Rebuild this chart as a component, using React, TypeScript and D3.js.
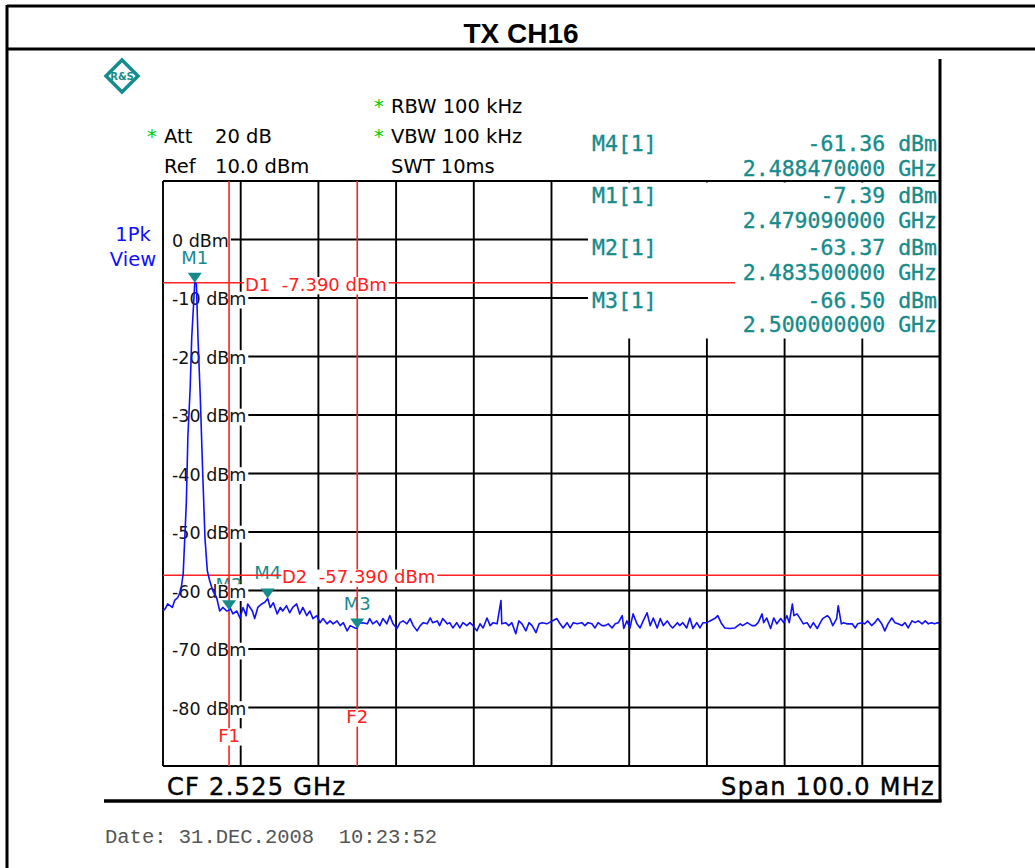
import * as d3 from 'd3';
import React, { useEffect, useRef } from 'react';

// Spectrum analyser screenshot: TX CH16, CF 2.525 GHz, span 100 MHz
const START_MHZ = 2475;
const STOP_MHZ = 2575;
const REF_LEVEL = 10;
const BOTTOM_LEVEL = -90;

const freqGrid = [2475, 2485, 2495, 2505, 2515, 2525, 2535, 2545, 2555, 2565, 2575];
const levelGrid = [10, 0, -10, -20, -30, -40, -50, -60, -70, -80, -90];
const levelLabels = [0, -10, -20, -30, -40, -50, -60, -70, -80];

const setupLeft = [
  { star: true, label: 'Att', value: '20 dB' },
  { star: false, label: 'Ref', value: '10.0 dBm' },
];
const setupRight = [
  { star: true, text: 'RBW 100 kHz' },
  { star: true, text: 'VBW 100 kHz' },
  { star: false, text: 'SWT 10ms' },
];

const markers = [
  { name: 'M1', freqGHz: 2.47909, level: -7.39 },
  { name: 'M2', freqGHz: 2.4835, level: -63.37 },
  { name: 'M3', freqGHz: 2.5, level: -66.5 },
  { name: 'M4', freqGHz: 2.48847, level: -61.36 },
];
const tableOrder = ['M4', 'M1', 'M2', 'M3'];

const displayLines = [
  { name: 'D1', level: -7.39 },
  { name: 'D2', level: -57.39 },
];
const freqLines = [
  { name: 'F1', freqGHz: 2.4835 },
  { name: 'F2', freqGHz: 2.5 },
];

// trace: [MHz above start frequency, dBm]
const trace: [number, number][] = [
  [0, -63.5], [0.3, -63.1], [0.6, -62.3], [1.2, -62.9], [1.5, -61.7], [1.9, -61.2], [2.3, -60.0], [2.6, -57.1],
  [3.0, -45.1], [3.2, -33.8], [3.5, -25.3], [3.7, -16.7], [4.09, -7.39], [4.3, -7.6], [4.5, -16.7], [4.8, -27.0],
  [5.1, -39.5], [5.4, -51.0], [5.7, -56.6], [6.0, -58.3], [6.4, -60.0], [6.9, -61.2], [7.3, -63.5], [7.7, -62.9],
  [8.2, -63.5], [8.5, -63.37], [8.6, -62.9], [9.0, -64.0], [9.5, -63.5], [9.9, -64.7], [10.3, -62.9], [10.7, -64.3],
  [10.9, -62.3], [11.5, -63.5], [11.8, -64.8], [12.2, -62.9], [12.7, -62.3], [13.1, -62.0], [13.47, -61.36], [13.8, -62.9],
  [14.2, -62.1], [14.7, -64.0], [15.1, -62.9], [15.4, -63.5], [15.9, -62.6], [16.3, -63.8], [16.7, -62.9], [17.2, -62.3],
  [17.6, -64.0], [18.0, -62.9], [18.5, -64.3], [18.9, -63.5], [19.3, -64.8], [19.8, -64.3], [20.2, -65.5], [20.6, -64.8],
  [21.1, -65.7], [21.5, -65.2], [21.9, -65.7], [22.4, -65.2], [22.8, -66.0], [23.2, -65.5], [23.7, -66.9], [24.1, -66.0],
  [24.7, -66.4], [25.0, -66.5], [25.1, -65.7], [25.7, -65.5], [26.3, -65.7], [26.6, -64.8], [27.0, -65.7], [27.5, -65.2],
  [27.9, -66.0], [28.3, -64.8], [28.8, -65.7], [29.2, -64.3], [29.6, -65.7], [30.1, -66.5], [30.5, -65.5], [30.9, -65.2],
  [31.4, -65.7], [31.8, -64.8], [32.2, -66.0], [32.7, -66.9], [33.1, -66.0], [33.5, -65.5], [34.0, -65.7], [34.4, -64.7],
  [34.7, -65.5], [35.3, -65.2], [35.6, -66.0], [36.0, -64.8], [36.6, -65.7], [36.9, -65.5], [37.3, -66.4], [37.8, -65.5],
  [38.2, -66.4], [38.6, -65.5], [39.1, -66.0], [39.5, -65.5], [39.9, -66.0], [40.4, -66.9], [40.8, -65.7], [41.2, -66.4],
  [41.7, -64.7], [42.1, -66.0], [42.5, -65.5], [43.0, -65.7], [43.5, -61.7], [43.6, -65.7], [44.1, -65.5], [44.5, -66.0],
  [44.9, -65.5], [45.4, -67.4], [45.8, -65.2], [46.2, -65.7], [46.7, -66.9], [47.1, -65.5], [47.5, -66.0], [48.0, -67.2],
  [48.4, -65.7], [48.8, -65.5], [49.4, -65.7], [50.1, -65.2], [50.7, -64.8], [51.1, -65.7], [51.5, -66.4], [52.0, -65.5],
  [52.4, -66.4], [52.8, -65.5], [53.3, -65.7], [53.9, -65.5], [54.3, -66.0], [54.7, -65.5], [55.2, -65.7], [55.6, -66.4],
  [56.0, -65.5], [56.5, -66.0], [56.9, -66.0], [57.3, -65.7], [57.8, -66.4], [58.2, -65.7], [58.6, -65.5], [59.1, -64.3],
  [59.3, -66.5], [59.7, -65.2], [60.1, -66.4], [60.5, -64.0], [61.0, -65.7], [61.4, -66.4], [61.8, -65.2], [62.3, -63.8],
  [62.7, -66.0], [63.1, -64.7], [63.6, -66.4], [64.0, -64.8], [64.4, -66.0], [64.9, -65.2], [65.3, -66.0], [65.6, -66.4],
  [66.2, -65.5], [66.5, -66.0], [66.9, -65.5], [67.4, -66.4], [67.8, -64.7], [68.2, -66.5], [68.7, -65.5], [69.1, -66.4],
  [69.5, -65.5], [70.0, -65.5], [70.4, -65.2], [71.0, -64.8], [71.4, -64.3], [71.9, -65.7], [72.3, -66.4], [73.0, -66.5],
  [73.6, -66.4], [74.3, -65.7], [74.6, -66.0], [75.2, -65.5], [75.8, -66.0], [76.2, -66.0], [76.6, -65.5], [77.1, -64.0],
  [77.3, -65.5], [77.7, -64.7], [78.2, -66.5], [78.6, -64.7], [79.0, -65.7], [79.5, -64.8], [79.9, -65.5], [80.3, -64.3],
  [80.6, -65.5], [81.0, -62.3], [81.2, -64.3], [81.6, -64.0], [82.0, -64.8], [82.4, -65.7], [82.9, -65.5], [83.3, -66.4],
  [83.7, -65.5], [84.2, -66.5], [84.6, -65.5], [84.9, -64.8], [85.5, -64.3], [85.8, -64.7], [86.2, -66.0], [86.7, -64.8],
  [86.9, -62.6], [87.3, -65.7], [87.6, -65.5], [88.0, -65.7], [88.7, -65.7], [89.1, -66.4], [89.4, -65.7], [90.0, -65.5],
  [90.3, -65.7], [90.7, -65.2], [91.2, -66.0], [91.6, -65.5], [92.0, -64.8], [92.5, -65.7], [92.9, -66.9], [93.3, -65.7],
  [93.8, -64.7], [94.2, -65.5], [94.6, -65.7], [95.1, -66.0], [95.5, -65.5], [95.9, -66.4], [96.4, -65.2], [96.8, -65.5],
  [97.2, -65.2], [97.7, -65.7], [98.1, -65.2], [98.5, -65.7], [98.9, -65.5], [99.3, -65.7], [99.7, -65.5], [100, -65.6],
];

const SANS = '"DejaVu Sans", Verdana, sans-serif';
const MONO = '"DejaVu Sans Mono", monospace';
const TEAL = '#168b8b';
const RED = '#ff2020';
const BLUE = '#1010ff';
const GREEN = '#00cc00';

const W = 1035;
const H = 868;

const App: React.FC = () => {
  const svgRef = useRef<SVGSVGElement>(null);

  useEffect(() => {
    if (!svgRef.current) return;
    const svg = d3.select(svgRef.current);
    svg.selectAll('*').remove();

    const plot = { left: 163, right: 940, top: 181, bottom: 766 };

    const x = d3.scaleLinear().domain([START_MHZ, STOP_MHZ]).range([plot.left, plot.right]);
    const y = d3.scaleLinear().domain([REF_LEVEL, BOTTOM_LEVEL]).range([plot.top, plot.bottom]);

    // text with a tight white box behind it (cap height + small descent)
    const boxedText = (
      g: d3.Selection<SVGGElement, unknown, null, undefined>,
      tx: number, ty: number, str: string, size: number, color: string,
      padL = 2, padR = 2, anchor = 'start'
    ) => {
      const t = g.append('text')
        .attr('x', tx).attr('y', ty)
        .attr('font-family', SANS).attr('font-size', size)
        .attr('text-anchor', anchor)
        .attr('fill', color)
        .style('white-space', 'pre')
        .text(str);
      const bb = (t.node() as SVGTextElement).getBBox();
      g.insert('rect', () => t.node() as SVGTextElement)
        .attr('x', bb.x - padL).attr('y', ty - size * 0.76)
        .attr('width', bb.width + padL + padR).attr('height', size * 0.96)
        .attr('fill', '#fff');
      return t;
    };

    // ---- outer frame and title
    svg.append('rect').attr('width', W).attr('height', H).attr('fill', '#fff');
    const frame = svg.append('g').attr('stroke', '#000').attr('stroke-width', 3);
    frame.append('line').attr('x1', 7).attr('x2', W).attr('y1', 6).attr('y2', 6);
    frame.append('line').attr('x1', 7).attr('x2', W).attr('y1', 49).attr('y2', 49);
    frame.append('line').attr('x1', 7).attr('x2', 7).attr('y1', 5).attr('y2', H);

    svg.append('text')
      .attr('x', 521).attr('y', 43)
      .attr('text-anchor', 'middle')
      .attr('font-family', '"Liberation Sans", Arial, sans-serif')
      .attr('font-weight', 'bold').attr('font-size', 28)
      .text('TX CH16');

    // ---- R&S logo
    const logo = svg.append('g').attr('transform', 'translate(122,76)');
    logo.append('path')
      .attr('d', 'M0,-16 L16,0 L0,16 L-16,0 Z')
      .attr('fill', 'none').attr('stroke', TEAL).attr('stroke-width', 3.5);
    logo.append('text')
      .attr('text-anchor', 'middle').attr('y', 4)
      .attr('font-family', SANS).attr('font-size', 10).attr('font-weight', 'bold')
      .attr('fill', TEAL).text('R&S');

    // ---- instrument settings
    const hdr = svg.append('g').attr('font-family', SANS).attr('font-size', 19.5);
    setupLeft.forEach((s, i) => {
      const by = 143 + i * 30;
      if (s.star) hdr.append('text').attr('x', 147).attr('y', by).attr('fill', GREEN).text('*');
      hdr.append('text').attr('x', 164).attr('y', by).text(s.label);
      hdr.append('text').attr('x', 215).attr('y', by).text(s.value);
    });
    setupRight.forEach((s, i) => {
      const by = 113 + i * 30;
      if (s.star) hdr.append('text').attr('x', 374).attr('y', by).attr('fill', GREEN).text('*');
      hdr.append('text').attr('x', 391).attr('y', by).text(s.text);
    });
    hdr.append('text').attr('x', 133).attr('y', 241).attr('text-anchor', 'middle').attr('fill', BLUE).text('1Pk');
    hdr.append('text').attr('x', 133).attr('y', 266).attr('text-anchor', 'middle').attr('fill', BLUE).text('View');

    // ---- grid
    const grid = svg.append('g').attr('stroke', '#000').attr('stroke-width', 1.9);
    grid.selectAll('line.v')
      .data(freqGrid)
      .join('line')
      .attr('class', 'v')
      .attr('x1', d => x(d)).attr('x2', d => x(d))
      .attr('y1', plot.top).attr('y2', plot.bottom);
    grid.selectAll('line.h')
      .data(levelGrid)
      .join('line')
      .attr('class', 'h')
      .attr('x1', plot.left).attr('x2', plot.right)
      .attr('y1', d => y(d)).attr('y2', d => y(d));

    // marker table area clears the grid behind it
    svg.append('rect')
      .attr('x', 588).attr('y', plot.top + 1.5)
      .attr('width', plot.right - 588).attr('height', 337 - plot.top)
      .attr('fill', '#fff');

    // ---- marker names above the markers
    const mk = svg.append('g');
    markers.forEach(m => {
      const mx = x(m.freqGHz * 1000);
      const my = y(m.level);
      mk.append('text')
        .attr('x', mx).attr('y', my - 19)
        .attr('text-anchor', 'middle')
        .attr('font-family', SANS).attr('font-size', 18)
        .attr('fill', TEAL).text(m.name);
    });

    // ---- level labels
    const yl = svg.append('g');
    levelLabels.forEach(v => {
      boxedText(yl as any, 172, y(v) + 7, `${v} dBm`, 17.5, '#111', 8, 2);
    });

    // ---- display lines and frequency lines
    const red = svg.append('g').attr('stroke', RED).attr('stroke-width', 1.6);
    displayLines.forEach((d, i) => {
      red.append('line')
        .attr('x1', plot.left).attr('x2', i === 0 ? 735 : plot.right)
        .attr('y1', y(d.level)).attr('y2', y(d.level));
    });
    freqLines.forEach(f => {
      red.append('line')
        .attr('x1', x(f.freqGHz * 1000)).attr('x2', x(f.freqGHz * 1000))
        .attr('y1', plot.top).attr('y2', plot.bottom);
    });

    const lbl = svg.append('g');
    const dLabelX = [245, 282];
    displayLines.forEach((d, i) => {
      boxedText(lbl as any, dLabelX[i], y(d.level) + 8, `${d.name}  ${d.level.toFixed(3)} dBm`, 18, RED, 1, 2);
    });
    const fLabelY = [742, 723];
    freqLines.forEach((f, i) => {
      boxedText(lbl as any, x(f.freqGHz * 1000), fLabelY[i], f.name, 18, RED, 2, 2, 'middle');
    });

    // ---- trace
    const line = d3.line<[number, number]>()
      .x(d => x(START_MHZ + d[0]))
      .y(d => y(d[1]));
    svg.append('path')
      .datum(trace)
      .attr('d', line)
      .attr('fill', 'none')
      .attr('stroke', BLUE)
      .attr('stroke-width', 1.6)
      .attr('stroke-linejoin', 'round');

    // ---- marker triangles
    svg.append('g')
      .selectAll('path')
      .data(markers)
      .join('path')
      .attr('d', m => {
        const mx = x(m.freqGHz * 1000);
        const my = y(m.level);
        return `M${mx - 7},${my - 10} L${mx + 7},${my - 10} L${mx},${my} Z`;
      })
      .attr('fill', TEAL);

    // ---- marker table
    const tbl = svg.append('g')
      .attr('font-family', MONO).attr('font-size', 21.5)
      .attr('fill', TEAL).attr('stroke', TEAL).attr('stroke-width', 0.35);
    tableOrder.forEach((name, i) => {
      const m = markers.find(k => k.name === name)!;
      const by = 151 + i * 52.2;
      tbl.append('text').attr('x', 592).attr('y', by).text(`${m.name}[1]`);
      tbl.append('text').attr('x', 937).attr('y', by).attr('text-anchor', 'end')
        .text(`${m.level.toFixed(2)} dBm`);
      tbl.append('text').attr('x', 937).attr('y', by + 24.8).attr('text-anchor', 'end')
        .text(`${m.freqGHz.toFixed(9)} GHz`);
    });

    // ---- right edge, bottom bar
    svg.append('line')
      .attr('x1', plot.right).attr('x2', plot.right)
      .attr('y1', 59).attr('y2', 802)
      .attr('stroke', '#000').attr('stroke-width', 3);
    svg.append('line')
      .attr('x1', 104).attr('x2', plot.right + 1.5)
      .attr('y1', 801).attr('y2', 801)
      .attr('stroke', '#000').attr('stroke-width', 3.5);

    const foot = svg.append('g')
      .attr('font-family', SANS).attr('font-size', 24)
      .attr('letter-spacing', 1.3)
      .attr('stroke', '#000').attr('stroke-width', 0.45);
    foot.append('text').attr('x', 167).attr('y', 795)
      .text(`CF ${((START_MHZ + STOP_MHZ) / 2000).toFixed(3)} GHz`);
    foot.append('text').attr('x', 935).attr('y', 795).attr('text-anchor', 'end')
      .text(`Span ${(STOP_MHZ - START_MHZ).toFixed(1)} MHz`);

    svg.append('text')
      .attr('x', 105).attr('y', 843)
      .attr('font-family', '"Liberation Mono", "Courier New", monospace')
      .attr('font-size', 20.5)
      .attr('fill', '#555')
      .style('white-space', 'pre')
      .text('Date: 31.DEC.2008  10:23:52');
  }, []);

  return (
    <svg
      ref={svgRef}
      width={W}
      height={H}
      style={{ position: 'absolute', left: 0, top: 0, display: 'block' }}
    />
  );
};

export default App;
